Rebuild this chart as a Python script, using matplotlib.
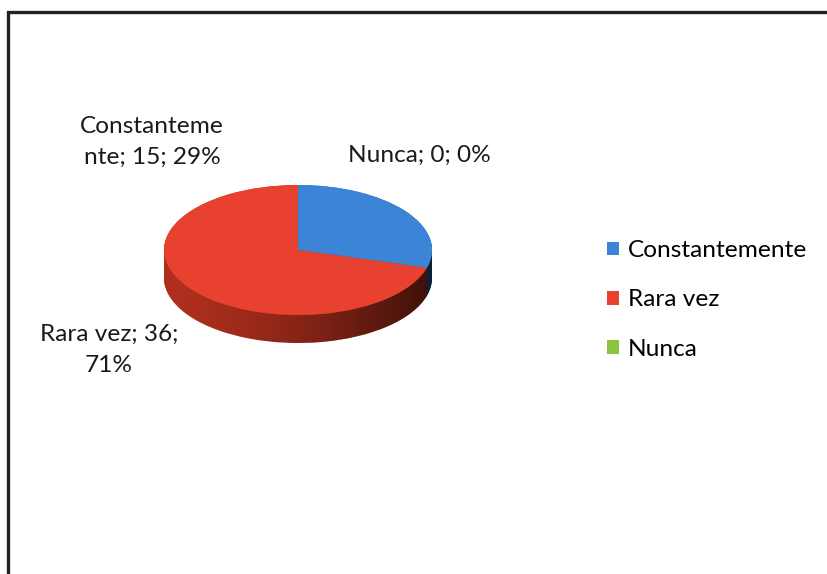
import numpy as np
import matplotlib
matplotlib.use("Agg")
import matplotlib.pyplot as plt
from matplotlib.patches import Rectangle
from matplotlib.path import Path
from matplotlib.patches import PathPatch

plt.rcParams['font.family'] = ['Lato', 'DejaVu Sans']

categories = ['Constantemente', 'Rara vez', 'Nunca']
values = [15, 36, 0]
label_texts = ['Constanteme\nnte; 15; 29%', 'Nunca; 0; 0%', 'Rara vez; 36;\n71%']
top_colors = ['#3b84d6', '#e8412f', '#8dc43d']
side_colors = ['#2a5f9e', '#b8321f', '#6a9a2c']

W, H = 827, 574
fig = plt.figure(figsize=(W / 100, H / 100), dpi=100)

# chart frame (runs off the right and bottom edges like the scan)
fig.patches.append(Rectangle((8 / W, -0.05), 1.1, (H - 12) / H + 0.05,
                             transform=fig.transFigure, fill=False,
                             edgecolor='#222222', linewidth=2.4))

# pie axes: 1 unit = 134 px across, 65 px down -> squashed 3d look
rx, ry = 134, 65
cx, cy = 298, H - 250
aw, ah = 320, 240
ax = fig.add_axes([(cx - aw / 2) / W, (cy - ah / 2) / H, aw / W, ah / H])
depth = 28 / ry

# side of the pie built from stacked copies
for d in np.linspace(depth, 0, 40):
    ax.pie(values, colors=side_colors, startangle=90, counterclock=False,
           center=(0, -d), wedgeprops=dict(linewidth=0))

# shading on the visible side band
t = np.linspace(np.pi, 2 * np.pi, 200)
xs = np.concatenate([np.cos(t), np.cos(t[::-1])])
ys = np.concatenate([np.sin(t), np.sin(t[::-1]) - depth])
band = Path(np.column_stack([xs, ys]), closed=True)
grad = np.linspace(0, 1, 256)[None, :]
shade = np.zeros((1, 256, 4))
shade[..., 3] = 0.05 + 0.62 * grad ** 1.5
im = ax.imshow(shade, extent=(-1, 1, -1 - depth, 0), aspect='auto',
               interpolation='bilinear', zorder=5)
clip = PathPatch(band, transform=ax.transData, facecolor='none', edgecolor='none')
ax.add_patch(clip)
im.set_clip_path(clip)

wedges, _ = ax.pie(values, colors=top_colors, startangle=90, counterclock=False,
                   wedgeprops=dict(linewidth=0, zorder=6))

ax.set_aspect('auto')
ax.set_xlim(-aw / 2 / rx, aw / 2 / rx)
ax.set_ylim(-ah / 2 / ry, ah / 2 / ry)
ax.axis('off')

# data labels
label_pos = [(152, 142), (419, 155), (109, 350)]
for txt, (px, py) in zip(label_texts, label_pos):
    fig.text(px / W, (H - py) / H, txt, ha='center', va='center',
             fontsize=17.6, linespacing=1.55, color='#1a1a1a')

fig.legend(wedges, categories, loc='center left',
           bbox_to_anchor=(607 / W, (H - 300) / H), frameon=False,
           fontsize=17.6, labelspacing=1.16, handlelength=0.5, handleheight=0.5,
           handletextpad=0.35, borderpad=0, borderaxespad=0)

fig.savefig('out.png', dpi=100)
